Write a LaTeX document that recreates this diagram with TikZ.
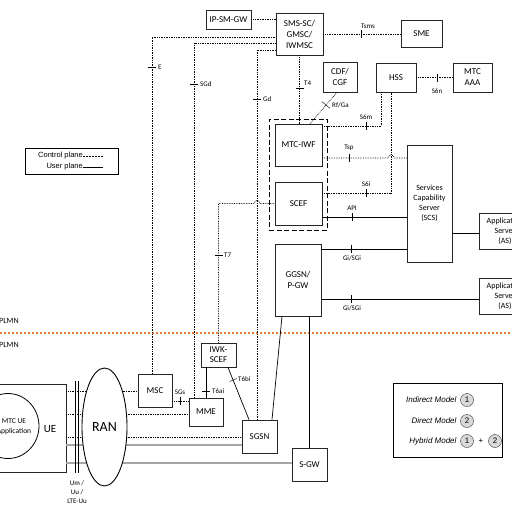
\documentclass[tikz,border=0pt]{standalone}
\usepackage{fontspec}
\setmainfont{Carlito}
\newfontfamily\arialfont{Liberation Sans}
\usetikzlibrary{shapes.geometric}
\definecolor{plmnorange}{RGB}{237,125,49}

\begin{document}
\begin{tikzpicture}[x=1pt,y=-1pt,font=\fontsize{9}{11}\selectfont,
        box/.style={draw=black!85,line width=0.8pt,fill=white,inner sep=1pt,align=center},
        ctrl/.style={densely dotted,line width=0.7pt},
        user/.style={line width=0.7pt},
        upgray/.style={draw=black!35,line width=1.4pt},
        lbl/.style={font=\fontsize{7}{8}\selectfont,inner sep=1pt},
        num/.style={circle,draw=black!80,fill=black!15,minimum size=13pt,inner sep=0pt,font=\arialfont\fontsize{8}{9}\selectfont}]
    \useasboundingbox (0,0) rectangle (512,512);
    \clip (0,0) rectangle (512,512);

    % core network boxes
    \node[box,minimum width=45,minimum height=19] (ipsmgw) at (228.5,19.5) {IP-SM-GW};
    \node[box,minimum width=47,minimum height=42] (smssc) at (299.5,34) {SMS-SC/\\GMSC/\\IWMSC};
    \node[box,minimum width=41,minimum height=27] (sme) at (421.5,33.5) {SME};
    \node[box,minimum width=34,minimum height=30] (cdf) at (340,77) {CDF/\\CGF};
    \node[box,minimum width=40,minimum height=29] (hss) at (396,77.5) {HSS};
    \node[box,minimum width=39,minimum height=29] (aaa) at (472.5,77.5) {MTC\\AAA};
    \node[draw,dash pattern=on 5pt off 2.5pt,line width=0.8pt,minimum width=58,minimum height=111] (grp) at (298,174.5) {};
    \node[box,minimum width=47,minimum height=42] (mtciwf) at (298.5,145) {MTC-IWF};
    \node[box,minimum width=47,minimum height=43] (scef) at (298.5,203.5) {SCEF};
    \node[box,minimum width=45,minimum height=117,font=\fontsize{8}{10}\selectfont] (scs) at (429.5,203.5) {Services\\Capability\\Server\\(SCS)};
    \node[box,minimum width=52,minimum height=36,font=\fontsize{8}{10}\selectfont] (as1) at (505,231) {Application\\Server\\(AS)};
    \node[box,minimum width=52,minimum height=36,font=\fontsize{8}{10}\selectfont] (as2) at (505,296) {Application\\Server\\(AS)};
    \node[box,minimum width=46,minimum height=72] (ggsn) at (298,280) {GGSN/\\P-GW};
    \node[box,minimum width=35,minimum height=24,font=\fontsize{9}{10}\selectfont] (iwk) at (218.5,355) {IWK-\\SCEF};
    \node[box,minimum width=34,minimum height=33] (msc) at (155,390.5) {MSC};
    \node[box,minimum width=34,minimum height=28] (mme) at (206,412) {MME};
    \node[box,minimum width=35,minimum height=33] (sgsn) at (259.5,436.5) {SGSN};
    \node[box,minimum width=35,minimum height=33] (sgw) at (309.5,464.5) {S-GW};

    % UE side
    \node[box,minimum width=76,minimum height=88] (ue) at (28,428) {};
    \node[draw,ellipse,line width=0.8pt,minimum width=62,minimum height=65] (app) at (8,426) {};
    \node[align=center,font=\fontsize{7.5}{10}\selectfont] (apptxt) at (14,427) {MTC UE\\Application};
    \node (uetxt) at (50,429) {\fontsize{11}{13}\selectfont UE};

    % PLMN border
    \draw[draw=plmnorange,dash pattern=on 2pt off 2pt,line width=1.2pt] (0,333) -- (512,333);
    \node[anchor=west,inner sep=0pt,font=\fontsize{8}{9}\selectfont] (hplmn) at (-1,321) {PLMN};
    \node[anchor=west,inner sep=0pt,font=\fontsize{8}{9}\selectfont] (vplmn) at (-1,345) {PLMN};

    % control plane
    \draw[ctrl] (ipsmgw.east) -- (smssc.west |- ipsmgw.east);
    \draw[ctrl] (smssc.east) -- (sme.west |- smssc.east);
    \draw (361,30) -- (361,38);
    \node[lbl] (tsms) at (368,26) {Tsms};
    \draw[ctrl] ([xshift=-3pt]msc.north) |- (smssc.west |- 0,37);
    \draw (148,67) -- (156,67);
    \node[lbl,anchor=west] (e) at (157,67) {E};
    \draw[ctrl] ([xshift=-12pt]mme.north) |- (smssc.west |- 0,43);
    \draw (190,84) -- (198,84);
    \node[lbl,anchor=west] (sgd) at (199,84) {SGd};
    \draw[ctrl] ([xshift=-2.5pt]sgsn.north) |- (smssc.west |- 0,50);
    \draw (253,99) -- (261,99);
    \node[lbl,anchor=west] (gd) at (262,99) {Gd};
    \draw[ctrl] (smssc.south) -- (smssc.south |- mtciwf.north);
    \draw (295.5,88) -- (303.5,88);
    \node[lbl,anchor=west] (t4) at (303,83) {T4};
    \draw[ctrl] ([xshift=-3pt]cdf.south) -- (mtciwf.north -| 310,0);
    \draw (321.8,101.5) -- (330.2,108.5);
    \node[lbl,anchor=west] (rfga) at (331,105) {Rf/Ga};
    \draw[ctrl] (hss.east) -- (aaa.west);
    \draw (437,73.5) -- (437,81.5);
    \node[lbl] (s6n) at (437,91) {S6n};
    \draw[ctrl] (mtciwf.east |- 0,126) -| ([xshift=-15pt]hss.south);
    \draw (366,122) -- (366,130);
    \node[lbl] (s6m) at (366,117) {S6m};
    \draw[ctrl] (mtciwf.east |- 0,158) -- (388,158) arc[start angle=180,end angle=360,radius=3] -- (scs.west |- 0,158);
    \draw (349,154) -- (349,162);
    \node[lbl] (tsp) at (349,148) {Tsp};
    \draw[ctrl] (scef.east |- 0,193) -| ([xshift=-5pt]hss.south);
    \draw (366,189) -- (366,197);
    \node[lbl] (s6i) at (366,184) {S6i};
    \draw[ctrl] (iwk.north) |- (254,203.5) arc[start angle=180,end angle=360,radius=3] -- (scef.west);
    \draw (214.5,255) -- (222.5,255);
    \node[lbl,anchor=west] (t7) at (223,255) {T7};
    \draw[ctrl] (msc.east |- 0,401) -- (mme.west |- 0,401);
    \draw (180,397) -- (180,405);
    \node[lbl] (sgs) at (180,392) {SGs};

    % user plane and T6
    \draw[user] (scef.east |- 0,217) -- (scs.west |- 0,217);
    \draw (352,213) -- (352,221);
    \node[lbl] (api) at (352,208) {API};
    \draw[user] (scs.east |- 0,233) -- (as1.west |- 0,233);
    \draw[user] (ggsn.east |- 0,249) -- (scs.west |- 0,249);
    \draw (351,245) -- (351,253);
    \node[lbl] (gisgi) at (352,258) {Gi/SGi};
    \draw[user] (ggsn.east |- 0,299) -- (as2.west |- 0,299);
    \draw (351,295) -- (351,303);
    \node[lbl] (gisgib) at (352,308) {Gi/SGi};
    \draw[user] (mme.north |- iwk.south) -- (mme.north);
    \draw (202,391) -- (210,391);
    \node[lbl,anchor=west] (t6ai) at (211,391) {T6ai};
    \draw[user] ([xshift=9.5pt]iwk.south) -- ([xshift=-10.5pt]sgsn.north);
    \draw (229.5,381.5) -- (236.9,378.5);
    \node[lbl,anchor=west] (t6bi) at (237,379) {T6bi};
    \draw[user] ([xshift=12.5pt]sgsn.north) -- ([xshift=-16pt]ggsn.south);
    \draw[user] (sgw.north) -- (sgw.north |- ggsn.south);

    % radio side
    \draw[ctrl] (ue.east |- 0,391) -- (msc.west |- 0,391);
    \draw[ctrl] (ue.east |- 0,414) -- (mme.west |- 0,414);
    \draw[ctrl] (ue.east |- 0,437) -- (sgsn.west |- 0,437);
    \draw[upgray] (ue.east |- 0,445) -- (sgsn.west |- 0,445);
    \draw[upgray] (ue.east |- 0,463) -- (sgw.west |- 0,463);
    \node[draw,ellipse,line width=0.9pt,fill=white,minimum width=45,minimum height=118,font=\fontsize{14}{16}\selectfont] (ran) at (104.5,427) {RAN};
    \draw[line width=0.8pt] (75,381) -- (75,473);
    \draw[line width=0.8pt] (78,381) -- (78,473);
    \node[lbl,align=center,font=\fontsize{7}{9}\selectfont] (uu) at (77,492) {Um /\\Uu /\\LTE-Uu};

    % plane legend
    \draw[line width=0.7pt] (25,148) rectangle (118,174);
    \node[anchor=east,inner sep=0pt,font=\arialfont\fontsize{7.5}{9}\selectfont] (cplane) at (83,156) {Control plane};
    \node[anchor=east,inner sep=0pt,font=\arialfont\fontsize{7.5}{9}\selectfont] (uplane) at (83,167) {User plane};
    \draw[dash pattern=on 2pt off 1pt,line width=0.8pt] (cplane.east) -- ++(20,0);
    \draw[line width=0.6pt] (uplane.east) -- ++(20,0);

    % model legend
    \draw[line width=0.7pt] (393,383) rectangle (502,457);
    \node[anchor=east,font=\arialfont\itshape\fontsize{8}{9}\selectfont] (indir) at (460,400) {Indirect Model};
    \node[anchor=east,font=\arialfont\itshape\fontsize{8}{9}\selectfont] (dir) at (460,421) {Direct Model};
    \node[anchor=east,font=\arialfont\itshape\fontsize{8}{9}\selectfont] (hyb) at (460,441) {Hybrid Model};
    \node[num] (one) at (467,400) {1};
    \node[num] (two) at (467,421) {2};
    \node[num] (hone) at (467,441) {1};
    \node[font=\arialfont\fontsize{8}{9}\selectfont] (plus) at (481,441) {+};
    \node[num] (htwo) at (495,441) {2};
\end{tikzpicture}
\end{document}
